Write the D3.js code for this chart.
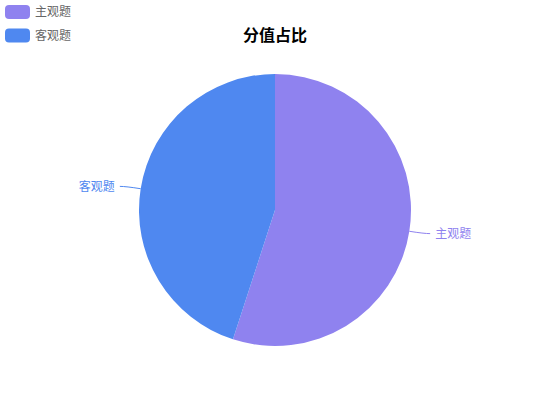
<!DOCTYPE html>
<html>
<head>
<meta charset="utf-8">
<script src="https://cdn.jsdelivr.net/npm/d3@7"></script>
<style>
  body { margin: 0; background: #fff; }
  svg { display: block; font-family: "Noto Sans CJK SC", "Noto Sans", sans-serif; }
</style>
</head>
<body>
<svg id="chart" width="550" height="420"></svg>
<script>
// chart data
const categories = ["主观题", "客观题"];
const values = [55, 45];
const colors = ["#8f82ef", "#4f88f0"];

const width = 550, height = 420;
const cx = 275, cy = 210, radius = 136;

const svg = d3.select("#chart");

// title
svg.append("text")
  .attr("x", cx)
  .attr("y", 41)
  .attr("text-anchor", "middle")
  .style("font-size", "16px")
  .style("font-weight", "bold")
  .style("fill", "#000")
  .text("分值占比");

// legend, top left
const legend = svg.append("g").attr("transform", "translate(5,5)");
categories.forEach((name, i) => {
  const item = legend.append("g").attr("transform", `translate(0, ${i * 23.5})`);
  item.append("rect")
    .attr("width", 25)
    .attr("height", 14)
    .attr("rx", 4)
    .style("fill", colors[i]);
  item.append("text")
    .attr("x", 30)
    .attr("y", 7)
    .attr("dy", ".35em")
    .style("font-size", "12px")
    .style("fill", "#666")
    .text(name);
});

// pie
const pie = d3.pie().sort(null).value(d => d.value);
const arcs = pie(categories.map((c, i) => ({ name: c, value: values[i], color: colors[i] })));
const arc = d3.arc().innerRadius(0).outerRadius(radius);

const g = svg.append("g").attr("transform", `translate(${cx},${cy})`);

g.selectAll("path.slice")
  .data(arcs)
  .join("path")
  .attr("class", "slice")
  .attr("d", arc)
  .style("fill", d => d.data.color);

// label lines and labels
const len1 = 15, len2 = 6;
arcs.forEach(d => {
  const mid = (d.startAngle + d.endAngle) / 2;
  const sx = Math.sin(mid), sy = -Math.cos(mid);
  const p0 = [sx * radius, sy * radius];
  const p1 = [sx * (radius + len1), sy * (radius + len1)];
  const dir = sx >= 0 ? 1 : -1;
  const p2 = [p1[0] + dir * len2, p1[1]];

  g.append("path")
    .attr("d", `M${p0[0]},${p0[1]} Q${p1[0]},${p1[1]} ${p2[0]},${p2[1]}`)
    .style("fill", "none")
    .style("stroke", d.data.color)
    .style("stroke-width", 1);

  g.append("text")
    .attr("x", p2[0] + dir * 5)
    .attr("y", p2[1])
    .attr("dy", ".35em")
    .attr("text-anchor", dir > 0 ? "start" : "end")
    .style("font-size", "12px")
    .style("fill", d.data.color)
    .text(d.data.name);
});
</script>
</body>
</html>
